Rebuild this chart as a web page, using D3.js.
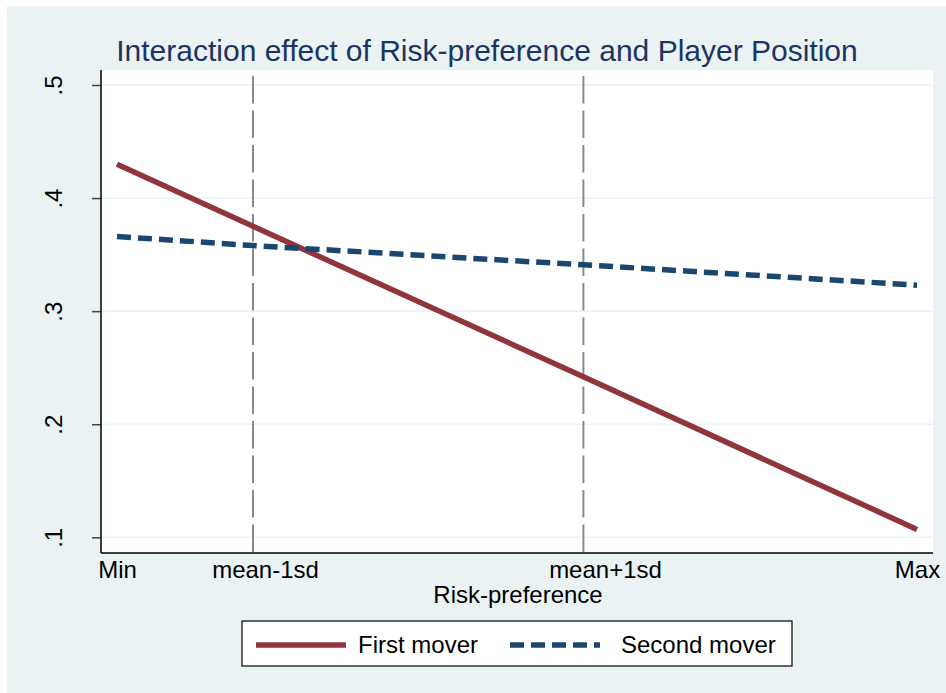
<!DOCTYPE html>
<html>
<head>
<meta charset="utf-8">
<script src="https://cdn.jsdelivr.net/npm/d3@7"></script>
<style>
  html, body { margin: 0; padding: 0; background: #ffffff; }
  svg { display: block; font-family: "Liberation Sans", Arial, sans-serif; }
</style>
</head>
<body>
<svg id="chart" width="946" height="693"></svg>
<script>
// ---- data ----
const titleText = "Interaction effect of Risk-preference and Player Position";
const xAxisTitle = "Risk-preference";
const xTickLabels = ["Min", "mean-1sd", "mean+1sd", "Max"];
const xTickValues = [0, 1.85, 6.1, 10];
const xLineValues = [1.7, 5.83];
const yTickValues = [0.1, 0.2, 0.3, 0.4, 0.5];
const yTickLabels = [".1", ".2", ".3", ".4", ".5"];
const seriesX = [0, 1.7, 5.83, 10];
const firstMover = [0.430, 0.375, 0.242, 0.107];
const secondMover = [0.366, 0.358, 0.341, 0.323];
const seriesNames = ["First mover", "Second mover"];

// ---- layout ----
const W = 946, H = 693;
const plot = { left: 101, right: 933, top: 70, bottom: 553 };
const colors = { first: "#90353b", second: "#1a476f", bg: "#eaf2f3", title: "#1c3461" };

const svg = d3.select("#chart");

// background (graph region)
svg.append("rect").attr("x", 7).attr("y", 6).attr("width", W - 7).attr("height", H - 6)
  .attr("fill", colors.bg);
// plot region
svg.append("rect").attr("x", plot.left).attr("y", plot.top)
  .attr("width", plot.right - plot.left).attr("height", plot.bottom - plot.top)
  .attr("fill", "#ffffff");

const x = d3.scaleLinear().domain([0, 10]).range([117, 917]);
const y = d3.scaleLinear().domain([0.1, 0.5]).range([537.3, 85]);

// gridlines
svg.append("g").selectAll("line").data(yTickValues).join("line")
  .attr("x1", plot.left).attr("x2", plot.right)
  .attr("y1", d => y(d)).attr("y2", d => y(d))
  .attr("stroke", colors.bg).attr("stroke-width", 1.5);

// x reference lines
svg.append("g").selectAll("line").data(xLineValues).join("line")
  .attr("x1", d => x(d)).attr("x2", d => x(d))
  .attr("y1", plot.top).attr("y2", plot.bottom)
  .attr("stroke", "#8a8a8a").attr("stroke-width", 2)
  .attr("stroke-dasharray", "27.5,7").attr("stroke-dashoffset", 28.5);

// series lines
const line = d3.line().x((d, i) => x(seriesX[i])).y(d => y(d));
svg.append("path").datum(firstMover).attr("d", line)
  .attr("fill", "none").attr("stroke", colors.first).attr("stroke-width", 5.5);
svg.append("path").datum(secondMover).attr("d", line)
  .attr("fill", "none").attr("stroke", colors.second).attr("stroke-width", 5.5)
  .attr("stroke-dasharray", "14,7");

// y axis
const yAxis = d3.axisLeft(y).tickValues(yTickValues)
  .tickFormat((d, i) => yTickLabels[i]).tickSize(9).tickPadding(0);
const gy = svg.append("g").attr("transform", `translate(${plot.left},0)`).call(yAxis);
gy.select(".domain").remove();
gy.selectAll(".tick line").attr("stroke", "#444").attr("stroke-width", 1.5);
gy.selectAll(".tick text")
  .attr("x", 0).attr("y", 0).attr("dy", null)
  .attr("transform", "translate(-39,0) rotate(-90)")
  .attr("text-anchor", "middle")
  .attr("font-size", 24).attr("fill", "#000");
svg.append("line").attr("x1", plot.left).attr("x2", plot.left)
  .attr("y1", plot.top).attr("y2", plot.bottom)
  .attr("stroke", "#000").attr("stroke-width", 1.5);

// x axis
const xAxis = d3.axisBottom(x).tickValues(xTickValues)
  .tickFormat((d, i) => xTickLabels[i]).tickSize(0).tickPadding(0);
const gx = svg.append("g").attr("transform", `translate(0,${plot.bottom})`).call(xAxis);
gx.select(".domain").remove();
gx.selectAll(".tick text").attr("y", 25).attr("dy", null)
  .attr("font-size", 24).attr("fill", "#000");
svg.append("line").attr("x1", plot.left).attr("x2", plot.right)
  .attr("y1", plot.bottom).attr("y2", plot.bottom)
  .attr("stroke", "#000").attr("stroke-width", 1.5);

// axis title
svg.append("text").attr("x", 518).attr("y", 603).attr("text-anchor", "middle")
  .attr("font-size", 24).attr("fill", "#000").text(xAxisTitle);

// title
svg.append("text").attr("x", 487).attr("y", 61).attr("text-anchor", "middle")
  .attr("font-size", 30).attr("fill", colors.title).text(titleText);

// legend
const lg = svg.append("g");
lg.append("rect").attr("x", 242).attr("y", 621).attr("width", 550).attr("height", 45)
  .attr("fill", "#fff").attr("stroke", "#000").attr("stroke-width", 1.2);
const legendItems = [
  { name: seriesNames[0], color: colors.first, dash: null, x1: 256, tx: 358 },
  { name: seriesNames[1], color: colors.second, dash: "14,7", x1: 510, tx: 621 }
];
legendItems.forEach(it => {
  lg.append("line").attr("x1", it.x1).attr("x2", it.x1 + 90).attr("y1", 645).attr("y2", 645)
    .attr("stroke", it.color).attr("stroke-width", 5.5)
    .attr("stroke-dasharray", it.dash);
  lg.append("text").attr("x", it.tx).attr("y", 653).attr("font-size", 24)
    .attr("fill", "#000").text(it.name);
});
</script>
</body>
</html>
